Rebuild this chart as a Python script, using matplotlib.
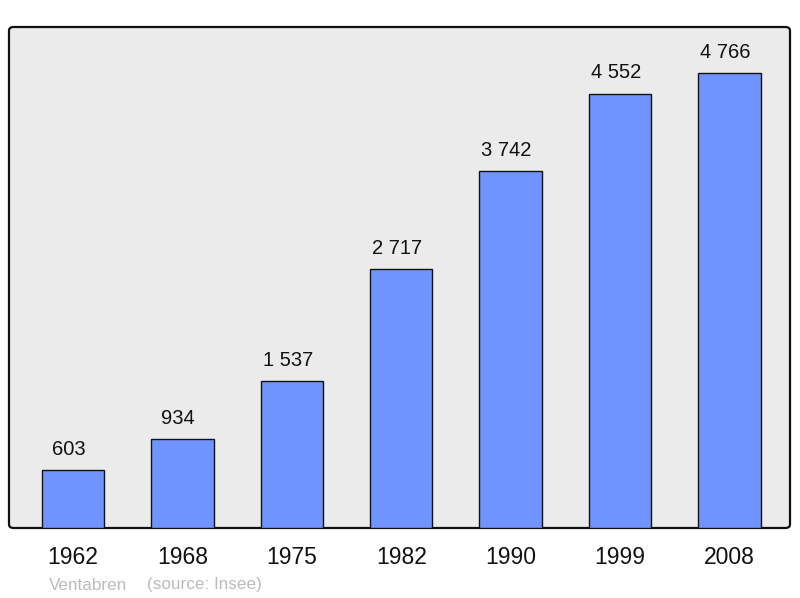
import matplotlib
matplotlib.use('Agg')
from matplotlib import pyplot as plt
from matplotlib.patches import FancyBboxPatch

years = ['1962', '1968', '1975', '1982', '1990', '1999', '2008']
population = [603, 934, 1537, 2717, 3742, 4552, 4766]
labels = ['603', '934', '1 537', '2 717', '3 742', '4 552', '4 766']

plt.rcParams['font.family'] = ['Liberation Sans', 'DejaVu Sans']

fig = plt.figure(figsize=(8, 5.98), dpi=100)
ax = fig.add_axes([9 / 800, 70 / 598, 781 / 800, 501 / 598])
ax.set_facecolor('none')
ax.set_zorder(1)

# rounded background frame
frame = FancyBboxPatch((9 / 800, 70 / 598), 781 / 800, 501 / 598,
                       boxstyle='round,pad=0,rounding_size=0.006',
                       transform=fig.transFigure, facecolor='#ebebeb',
                       edgecolor='#111111', linewidth=1.6, zorder=0)
fig.patches.append(frame)

x = range(len(years))
ax.bar(x, population, width=0.57, color='#7094ff', edgecolor='#111111',
       linewidth=1.0, zorder=2)
for i, (v, t) in enumerate(zip(population, labels)):
    ax.annotate(t, (i, v), xytext=(-3, 8), textcoords='offset points',
                ha='center', va='bottom', fontsize=14.5, color='#111111')

ax.set_xlim(-0.585, 6.554)
ax.set_ylim(0, 5250)
ax.set_xticks(list(x))
ax.set_xticklabels(years, fontsize=16.5, color='#111111')
ax.tick_params(axis='x', length=0, pad=13)
ax.set_yticks([])
for s in ax.spines.values():
    s.set_visible(False)

fig.text(49 / 800, 1 - 585 / 598, 'Ventabren',
         fontsize=12.3, color='#bbbbbb', ha='left', va='center')
fig.text(147 / 800, 1 - 585 / 598, '(source: Insee)',
         fontsize=12.3, color='#bbbbbb', ha='left', va='center')

fig.savefig('out.png', dpi=100)
